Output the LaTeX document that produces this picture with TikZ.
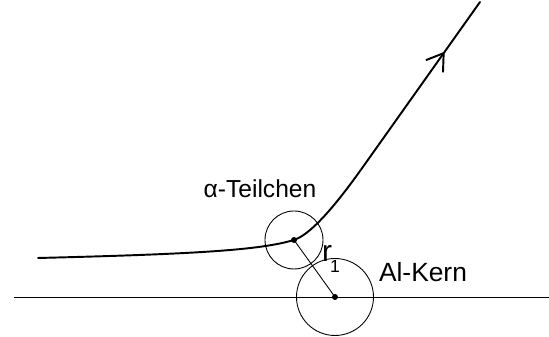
\documentclass[tikz,border=0pt]{standalone}
\usepackage{fontspec}
\setmainfont{Liberation Sans}
\usetikzlibrary{arrows.meta, decorations.markings}

\begin{document}
\begin{tikzpicture}[x=0.02cm, y=0.02cm,
  bahn/.style={line width=1.1pt, line cap=round},
  kreis/.style={line width=0.5pt},
  punkt/.style={fill=black},
  lbl/.style={inner sep=0pt, anchor=base}
]
\useasboundingbox (0,0) rectangle (549,337);
\coordinate (start) at (38,79);
\coordinate (teil)  at (294,97);
\coordinate (knick) at (370,180);
\coordinate (ende)  at (480,335);
\coordinate (kern)  at (335,40);
\coordinate (achseL) at (14,40);
\coordinate (achseR) at (549,40);
% Achse und Kreise
\draw[kreis] (achseL) -- (achseR);
\draw[kreis] (teil) circle[radius=29];
\draw[kreis] (kern) circle[radius=38.5];
\draw[kreis] (teil) -- (kern);
\fill[punkt] (teil) circle[radius=3];
\fill[punkt] (kern) circle[radius=3];
% Bahn des Teilchens
\draw[bahn] (start) .. controls (200,83) and (260,87) .. (teil)
  .. controls (318,105) and (355,159) .. (knick) -- (ende);
\path[decorate, decoration={markings, mark=at position 0.68 with
  {\arrow[line width=1.1pt]{Straight Barb[length=0.32cm,width=0.42cm]}}}]
  (knick) -- (ende);
% Beschriftung
\node[lbl, font=\fontsize{14}{16}\selectfont] (alpha) at (260,139.3) {α-Teilchen};
\node[lbl, font=\fontsize{15}{18}\selectfont] (alk) at (423,55.3) {Al-Kern};
\node[lbl, font=\fontsize{17}{20}\selectfont] (r) at (327,75) {r};
\node[lbl, font=\fontsize{10}{12}\selectfont] (eins) at (335,64) {1};
\end{tikzpicture}
\end{document}
